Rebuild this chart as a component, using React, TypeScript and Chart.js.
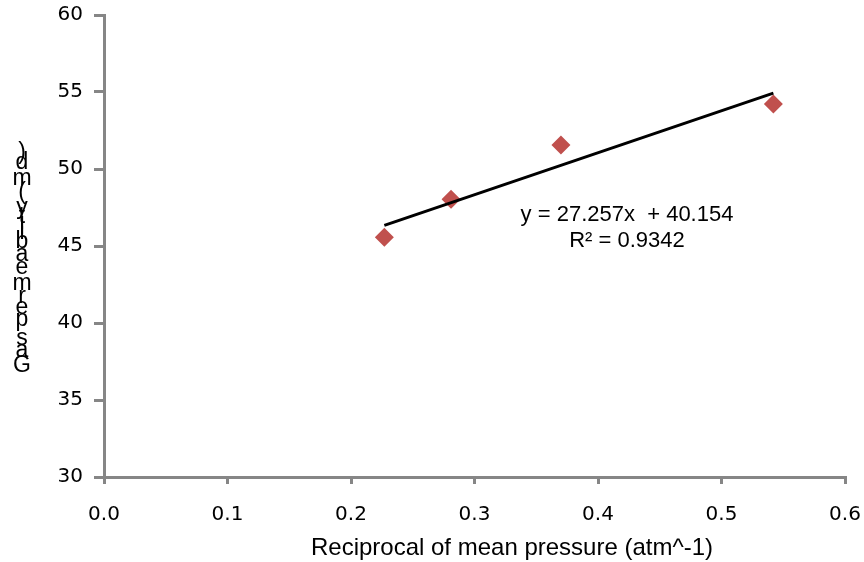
import React, { useEffect, useRef } from "react";
import { Chart, registerables } from "chart.js";

Chart.register(...registerables);

// Measured samples: reciprocal of mean pressure vs. gas permeability
const reciprocalPressure = [0.227, 0.281, 0.37, 0.542];
const gasPermeability = [45.57, 48.03, 51.56, 54.22];

// Linear trendline fitted to the samples
const trendSlope = 27.257;
const trendIntercept = 40.154;
const trendR2 = 0.9342;

const xTicks = [0, 0.1, 0.2, 0.3, 0.4, 0.5, 0.6];
const yTicks = [30, 35, 40, 45, 50, 55, 60];

const xTitle = "Reciprocal of mean pressure (atm^-1)";
const yTitle = "Gas permeability (md)";

const AXIS_GREY = "#868686";
const TICK_FONT = { family: "'DejaVu Sans', sans-serif", size: 20 };
const ARIAL = "'Liberation Sans', Arial, sans-serif";

const labelsPlugin = {
  id: "labels",
  afterDraw(chart: any) {
    const { ctx, scales } = chart;
    ctx.save();
    ctx.fillStyle = "#000";
    ctx.textAlign = "center";
    ctx.textBaseline = "middle";

    // Trendline equation and R²
    ctx.font = `22px ${ARIAL}`;
    const ex = scales.x.getPixelForValue(0.4235);
    const eqText = `y = ${trendSlope}x  + ${trendIntercept}`;
    ctx.fillText(eqText, ex, scales.y.getPixelForValue(47.0));
    ctx.fillText(`R² = ${trendR2}`, ex, scales.y.getPixelForValue(45.32));

    // Horizontal axis title
    ctx.font = `24px ${ARIAL}`;
    ctx.fillText(xTitle, 512, 548);

    // Vertical axis title, glyphs stacked upright bottom to top
    ctx.font = `23px ${ARIAL}`;
    const chars = Array.from(yTitle);
    const widths = chars.map((c) => ctx.measureText(c).width);
    let pos = 0;
    const startY = 366 + widths[0] / 2;
    chars.forEach((c, i) => {
      const center = pos + widths[i] / 2;
      ctx.fillText(c, 22, startY - center);
      pos += widths[i];
    });
    ctx.restore();
  },
};

export default function App() {
  const canvasRef = useRef<HTMLCanvasElement>(null);

  useEffect(() => {
    document.body.style.margin = "0";
    const canvas = canvasRef.current;
    if (!canvas) return;
    const x0 = reciprocalPressure[0];
    const x1 = reciprocalPressure[reciprocalPressure.length - 1];
    const chart = new Chart(canvas, {
      type: "scatter",
      data: {
        datasets: [
          {
            label: "Linear trend",
            data: [
              { x: x0, y: trendSlope * x0 + trendIntercept },
              { x: x1, y: trendSlope * x1 + trendIntercept },
            ],
            showLine: true,
            borderColor: "#000",
            borderWidth: 3,
            pointRadius: 0,
            order: 0,
          },
          {
            label: "Gas permeability",
            data: reciprocalPressure.map((x, i) => ({ x, y: gasPermeability[i] })),
            pointStyle: "rectRot",
            pointRadius: 9.5,
            pointHoverRadius: 9.5,
            backgroundColor: "#C0504D",
            borderWidth: 0,
            order: 1,
          },
        ],
      },
      options: {
        animation: false,
        responsive: false,
        layout: { padding: { top: 15, right: 19, left: 0, bottom: 0 } },
        plugins: { legend: { display: false }, tooltip: { enabled: false } },
        scales: {
          x: {
            type: "linear",
            min: 0,
            max: 0.6,
            afterBuildTicks: (s: any) => {
              s.ticks = xTicks.map((v) => ({ value: v }));
            },
            afterFit: (s: any) => {
              s.height = 85;
              s.paddingLeft = 0;
              s.paddingRight = 0;
            },
            ticks: {
              callback: (v: any) => Number(v).toFixed(1),
              font: TICK_FONT,
              color: "#000",
              padding: 19,
              maxRotation: 0,
            },
            grid: {
              drawOnChartArea: false,
              drawTicks: true,
              tickLength: 7,
              color: AXIS_GREY,
              lineWidth: 3,
            },
            border: { color: AXIS_GREY, width: 3 },
          },
          y: {
            type: "linear",
            min: 30,
            max: 60,
            afterBuildTicks: (s: any) => {
              s.ticks = yTicks.map((v) => ({ value: v }));
            },
            afterFit: (s: any) => {
              s.width = 104;
              s.paddingTop = 0;
              s.paddingBottom = 0;
            },
            ticks: {
              font: TICK_FONT,
              color: "#000",
              padding: 11,
            },
            grid: {
              drawOnChartArea: false,
              drawTicks: true,
              tickLength: 10,
              color: AXIS_GREY,
              lineWidth: 3,
            },
            border: { color: AXIS_GREY, width: 3 },
          },
        },
      },
      plugins: [labelsPlugin],
    });
    return () => chart.destroy();
  }, []);

  return <canvas ref={canvasRef} width={864} height={562} style={{ display: "block" }} />;
}
